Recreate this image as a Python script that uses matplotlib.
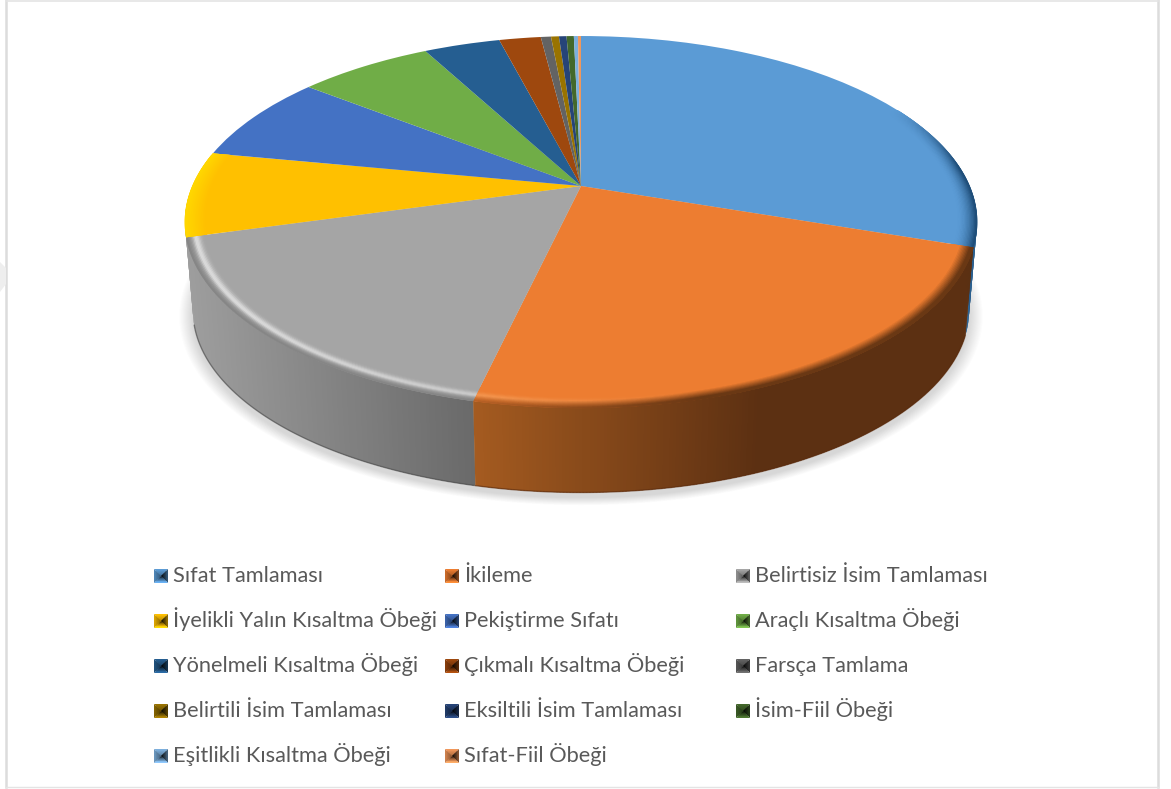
import matplotlib
matplotlib.use('Agg')
import matplotlib.pyplot as plt
import numpy as np
from matplotlib.collections import PolyCollection
from matplotlib.colors import to_rgb
from matplotlib.patches import Polygon
from matplotlib.transforms import Transform

plt.rcParams['font.family'] = ['Lato', 'DejaVu Sans']

categories = ['Sıfat Tamlaması', 'İkileme', 'Belirtisiz İsim Tamlaması',
              'İyelikli Yalın Kısaltma Öbeği', 'Pekiştirme Sıfatı', 'Araçlı Kısaltma Öbeği',
              'Yönelmeli Kısaltma Öbeği', 'Çıkmalı Kısaltma Öbeği', 'Farsça Tamlama',
              'Belirtili İsim Tamlaması', 'Eksiltili İsim Tamlaması', 'İsim-Fiil Öbeği',
              'Eşitlikli Kısaltma Öbeği', 'Sıfat-Fiil Öbeği']
shares = [30.2, 23.4, 17.0, 7.4, 7.6, 6.6, 3.75, 2.05, 0.5, 0.39, 0.37, 0.36, 0.2, 0.15]
colors = ['#5B9BD5', '#ED7D31', '#A5A5A5', '#FFC000', '#4472C4', '#70AD47', '#255E91',
          '#9E480E', '#636363', '#997300', '#264478', '#43682B', '#7CAFDD', '#F1975A']

# pie disc seen in perspective, all in pixels of the reference
CX, CY, BOTTOM_CY = 581, 186, 275
AX_, BY_, PERSP = 388.5, 179.0, 0.1935
BOTTOM_SCALE = 0.98


class DiscTransform(Transform):
    input_dims = 2
    output_dims = 2

    def __init__(self, cy=CY, scale=1.0):
        super().__init__()
        self.cy = cy
        self.scale = scale

    def transform_non_affine(self, values):
        values = np.asarray(values, dtype=float)
        w = 1 + PERSP * values[:, 1]
        return np.column_stack([CX + self.scale * AX_ * values[:, 0] / w,
                                self.cy - self.scale * BY_ * values[:, 1] / w])

    def transform(self, values):
        return self.transform_non_affine(values)


top_disc = DiscTransform()
bottom_disc = DiscTransform(BOTTOM_CY, BOTTOM_SCALE)


def mix(a, b, t):
    t = float(np.clip(t, 0, 1))
    return tuple((1 - t) * np.array(a) + t * np.array(b))


def unit(theta, r=1.0):
    rad = np.radians(theta)
    return np.array([[r * np.cos(rad), r * np.sin(rad)]])


def wall_color(i, x):
    if i == 1:
        return mix(to_rgb('#A55B20'), to_rgb('#5C3012'), (x - 476) / 280)
    if i == 2 or i == 3:
        return mix(to_rgb('#9E9E9E'), to_rgb('#6A6A6A'), (x - 190) / 285)
    if i == 0:
        return to_rgb('#2A5F8E')
    return tuple(np.array(to_rgb(colors[i])) * 0.6)


fig = plt.figure(figsize=(11.71, 7.89), dpi=100)
ax = fig.add_axes([0, 0, 1, 1])

wedges, _ = ax.pie(shares, colors=colors, startangle=90, counterclock=False,
                   wedgeprops={'linewidth': 0})
ax.set_aspect('auto')
ax.set_xlim(0, 1171)
ax.set_ylim(789, 0)
ax.axis('off')
for w in wedges:
    w.set_transform(top_disc + ax.transData)
    w.set_zorder(3)

# outer frame of the picture, heavier on the sides
ax.plot([6, 6], [0, 787], color='#DCDCDC', lw=1.8, zorder=1)
ax.plot([1158, 1158], [0, 787], color='#DCDCDC', lw=1.8, zorder=1)
ax.plot([6, 1158], [1, 1], color='#E4E4E4', lw=1.2, zorder=1)
ax.plot([6, 1158], [787, 787], color='#E4E4E4', lw=1.0, zorder=1)
ax.add_patch(Polygon([[0, 262], [6, 268], [6, 284], [0, 292]], fc='#EEEEEE', ec='none', zorder=1))

# soft shadow under the disc
angles = np.linspace(0, 360, 241)
for grow in np.linspace(1.035, 1.0, 14):
    pts = DiscTransform(BOTTOM_CY + 5, BOTTOM_SCALE * grow).transform(
        np.column_stack([np.cos(np.radians(angles)), np.sin(np.radians(angles))]))
    ax.add_patch(Polygon(pts, fc='#777777', ec='none', alpha=0.02, zorder=1.5))

# side wall, thin overlapping vertical bands so no seams show
STEP = 0.4
wall_quads = []
for i, w in enumerate(wedges):
    for th in np.arange(w.theta1, w.theta2, STEP):
        if np.sin(np.radians(th)) > -0.05:
            continue
        a, b = unit(th), unit(min(th + 2.5 * STEP, w.theta2))
        verts = np.vstack([top_disc.transform(a), top_disc.transform(b),
                           bottom_disc.transform(b), bottom_disc.transform(a)])
        wall_quads.append((abs(np.cos(np.radians(th))), th, verts, wall_color(i, verts[:, 0].mean())))
# nearest bands last
wall_quads.sort(key=lambda q: -q[0])
ax.add_collection(PolyCollection([q[2] for q in wall_quads], facecolors=[q[3] for q in wall_quads],
                                 edgecolors='none', zorder=2))

# darker line at the foot of the wall
for i, col in [(1, '#5A2A0C'), (2, '#4A4A4A')]:
    th = np.arange(wedges[i].theta1, wedges[i].theta2, 0.5)
    th = th[(np.sin(np.radians(th)) < -0.25)]
    foot = bottom_disc.transform(np.column_stack([np.cos(np.radians(th)), np.sin(np.radians(th))]))
    ax.plot(foot[:, 0], foot[:, 1], color=col, lw=1.0, alpha=0.6, zorder=2.5)

# bevel along the rim of the top face, outer rings painted over inner ones
radii = np.linspace(0.95, 1.0, 17)
rim_verts, rim_cols = [], []
for r0, r1 in zip(radii[:-1], radii[1:]):
    rm = (r0 + r1) / 2
    t = (rm - radii[0]) / (radii[-1] - radii[0])
    for i, w in enumerate(wedges[:4]):
        face = to_rgb(colors[i])
        for th in np.arange(w.theta1, w.theta2, 0.6):
            u, v = np.cos(np.radians(th)), np.sin(np.radians(th))
            if i == 0 and v > 0.45:
                continue
            if i == 0:
                col = mix(face, to_rgb('#1F4E79'), t ** 2 * np.clip((0.45 - v) / 0.35, 0, 1) * 1.1)
            elif i == 1:
                dark = np.clip((u + 0.35) / 0.6, 0, 1)
                col = mix(face, to_rgb('#F59A55'), np.exp(-((t - 0.55) / 0.2) ** 2) * (1 - dark))
                col = mix(col, to_rgb('#6A3814'), np.clip((t - 0.35 - 0.25 * (1 - dark)) / 0.5, 0, 1) * (0.35 + 0.65 * dark))
            elif i == 2:
                col = mix(face, to_rgb('#DADADA'), np.exp(-((t - 0.55) / 0.2) ** 2) * np.clip(0.55 - u * 0.6, 0, 1))
                col = mix(col, to_rgb('#858585'), np.clip((t - 0.62) / 0.36, 0, 1))
            else:
                col = mix(face, to_rgb('#FFD800'), t)
            a0, a1 = th, min(th + 1.2, w.theta2)
            rim_verts.append(np.vstack([top_disc.transform(unit(a0, r0)), top_disc.transform(unit(a1, r0)),
                                        top_disc.transform(unit(a1, r1 + 0.004 if r1 < 1 else r1)),
                                        top_disc.transform(unit(a0, r1 + 0.004 if r1 < 1 else r1))]))
            rim_cols.append(col)
ax.add_collection(PolyCollection(rim_verts, facecolors=rim_cols, edgecolors='none', zorder=4))

# legend, three columns, swatches shaded like little pyramids
col_x = [154, 445, 736]
row_y = [576, 621, 666, 711, 756]
SW = 7
for i, name in enumerate(categories):
    x = col_x[i % 3]
    y = row_y[i // 3]
    c = np.array(to_rgb(colors[i]))
    mid = np.array([x + SW, y])
    corners = np.array([[x, y - SW], [x + 2 * SW, y - SW], [x + 2 * SW, y + SW], [x, y + SW]])
    # top, right, bottom, left: shade at the rim and shade near the middle
    shades = [(1.0, 0.75), (0.55, 0.1), (1.15, 0.3), (0.85, 0.6)]
    for side, (outer, inner) in enumerate(shades):
        p0, p1 = corners[side], corners[(side + 1) % 4]
        for k, scale in enumerate([1.0, 0.75, 0.5, 0.25]):
            fc = np.minimum(c * (outer + (inner - outer) * k / 3), 1)
            pts = [mid + (p0 - mid) * scale, mid + (p1 - mid) * scale, mid]
            ax.add_patch(Polygon(pts, fc=tuple(fc), ec='none', zorder=5 + k * 0.01))
    ax.text(x + 19, y + 6, name, fontsize=15.65, color='#595959', va='baseline', ha='left', zorder=6)

fig.savefig('out.png', dpi=100)
plt.close(fig)
